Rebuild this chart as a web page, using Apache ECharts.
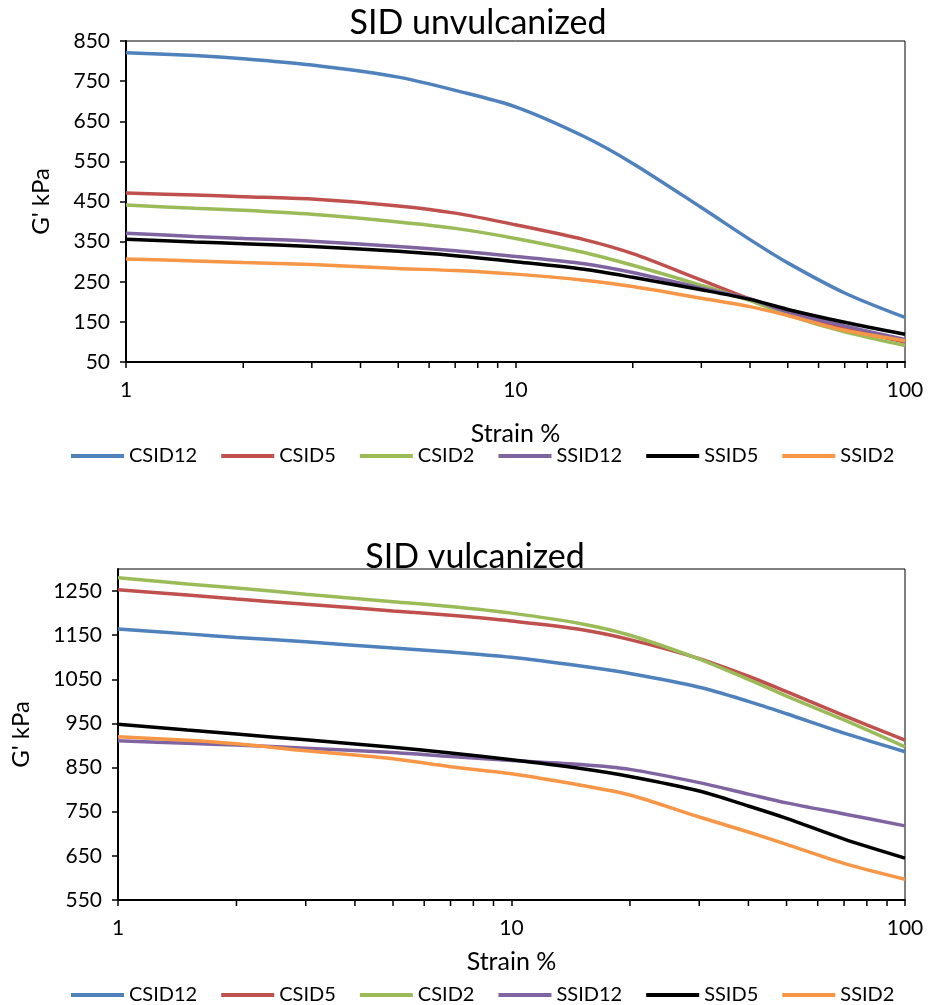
<!DOCTYPE html>
<html><head><meta charset="utf-8">
<script src="https://cdn.jsdelivr.net/npm/echarts@6/dist/echarts.min.js"></script>
<style>html,body{margin:0;padding:0;background:#fff}#c{width:928px;height:1005px}</style>
</head><body><div id="c"></div>
<script>
// ---- data ----
const strain = [1, 1.5, 2, 3, 5, 7, 10, 15, 20, 30, 40, 50, 70, 100];
const seriesNames = ['CSID12', 'CSID5', 'CSID2', 'SSID12', 'SSID5', 'SSID2'];

// SID unvulcanized (G' kPa)
const unvCSID12 = [821, 814, 806, 790, 760, 727, 686, 612, 545, 435, 355, 297, 222, 161];
const unvCSID5  = [471, 466, 462, 456, 439, 421, 392, 355, 320, 254, 207, 176, 134, 100];
const unvCSID2  = [441, 433, 428, 418, 399, 383, 358, 323, 291, 241, 203, 167, 125, 91];
const unvSSID12 = [371, 363, 358, 351, 338, 327, 313, 295, 273, 234, 207, 174, 140, 106];
const unvSSID5  = [356, 349, 345, 338, 326, 315, 300, 281, 261, 230, 206, 181, 149, 119];
const unvSSID2  = [307, 302, 298, 293, 283, 278, 269, 254, 238, 209, 188, 166, 129, 103];

// SID vulcanized (G' kPa)
const vulCSID12 = [1164, 1153, 1145, 1135, 1121, 1112, 1100, 1080, 1063, 1032, 1000, 972, 928, 886];
const vulCSID5  = [1253, 1241, 1232, 1220, 1205, 1195, 1182, 1163, 1140, 1097, 1057, 1022, 968, 912];
const vulCSID2  = [1280, 1266, 1257, 1243, 1226, 1215, 1200, 1176, 1150, 1096, 1050, 1012, 958, 897];
const vulSSID12 = [911, 905, 901, 894, 884, 875, 866, 857, 846, 816, 790, 770, 745, 718];
const vulSSID5  = [948, 935, 926, 913, 896, 883, 868, 848, 830, 797, 763, 735, 688, 645];
const vulSSID2  = [920, 912, 904, 888, 870, 852, 836, 810, 788, 738, 704, 676, 633, 597];

const minorTickValues = [2, 3, 4, 5, 6, 7, 8, 9, 20, 30, 40, 50, 60, 70, 80, 90];

const titles = ['SID unvulcanized', 'SID vulcanized'];
const xAxisTitle = 'Strain %';
const yAxisTitle = "G' kPa";

// ---- styling ----
const colors = ['#4F81BD', '#C0504D', '#9BBB59', '#8064A2', '#000000', '#F79646'];
const FONT = 'Lato, "Open Sans", sans-serif';
const unvData = [unvCSID12, unvCSID5, unvCSID2, unvSSID12, unvSSID5, unvSSID2];
const vulData = [vulCSID12, vulCSID5, vulCSID2, vulSSID12, vulSSID5, vulSSID2];
const yMins = [50, 550];

function pairs(vals) { return strain.map((s, i) => [s, vals[i]]); }

function lineSeries(dataSets, idx) {
  return dataSets.map((vals, i) => ({
    name: seriesNames[i],
    type: 'line',
    xAxisIndex: idx, yAxisIndex: idx,
    data: pairs(vals),
    smooth: 0.3,
    symbol: 'none', showSymbol: false,
    lineStyle: { color: colors[i], width: 3.5 },
    itemStyle: { color: colors[i] },
    silent: true,
    z: 2 + i
  }));
}

function minorTicks(idx) {
  return {
    type: 'custom',
    xAxisIndex: idx, yAxisIndex: idx,
    silent: true,
    clip: false,
    z: 10,
    data: minorTickValues.map(v => [v, yMins[idx]]),
    renderItem: function (params, api) {
      const p = api.coord([api.value(0), api.value(1)]);
      return { type: 'line', shape: { x1: p[0], y1: p[1], x2: p[0], y2: p[1] + 6 },
               style: { stroke: '#000', lineWidth: 1.5 } };
    }
  };
}

function xAxisCfg(idx, gap) {
  return {
    type: 'log', logBase: 10, min: 1, max: 100, gridIndex: idx,
    name: xAxisTitle, nameLocation: 'middle', nameGap: gap,
    nameTextStyle: { fontFamily: FONT, fontSize: 25, color: '#000', verticalAlign: 'top' },
    axisLine: { show: true, lineStyle: { color: '#000', width: 2 } },
    axisTick: { show: true, inside: false, length: 6, lineStyle: { color: '#000', width: 1.5 } },
    axisLabel: { fontFamily: FONT, fontSize: 21, color: '#000', margin: 18 },
    splitLine: { show: false }, minorTick: { show: false }
  };
}

function yAxisCfg(idx, min, max, gap) {
  return {
    type: 'value', min: min, max: max, interval: 100, gridIndex: idx,
    name: yAxisTitle, nameLocation: 'middle', nameGap: gap, nameRotate: 90,
    nameTextStyle: { fontFamily: FONT, fontSize: 24, color: '#000' },
    axisLine: { show: true, lineStyle: { color: '#000', width: 2 } },
    axisTick: { show: true, inside: false, length: 6, lineStyle: { color: '#000', width: 1.5 } },
    axisLabel: { fontFamily: FONT, fontSize: 21, color: '#000', margin: 16,
                 showMaxLabel: idx === 0, formatter: v => String(v) },
    splitLine: { show: false }
  };
}

function legendCfg(top) {
  return {
    data: seriesNames.map(n => ({ name: n, icon: 'rect' })),
    left: 71, top: top, orient: 'horizontal', padding: 0,
    itemWidth: 53, itemHeight: 4, itemGap: 24,
    selectedMode: false,
    textStyle: { fontFamily: FONT, fontSize: 20, color: '#000', padding: [0, 0, 0, 0] }
  };
}

const chart = echarts.init(document.getElementById('c'), null, { renderer: 'canvas' });
chart.setOption({
  backgroundColor: '#fff',
  animation: false,
  title: [
    { text: titles[0], left: 473, top: 1, textAlign: 'center',
      textStyle: { fontFamily: FONT, fontSize: 34, fontWeight: 'normal', color: '#000' } },
    { text: titles[1], left: 470, top: 535, textAlign: 'center',
      textStyle: { fontFamily: FONT, fontSize: 34, fontWeight: 'normal', color: '#000' } }
  ],
  legend: [legendCfg(446), legendCfg(985)],
  grid: [
    { left: 126, right: 23, top: 41, height: 321, show: true, borderColor: '#000', borderWidth: 1, containLabel: false },
    { left: 118, right: 23, top: 569, height: 331, show: true, borderColor: '#000', borderWidth: 1, containLabel: false }
  ],
  xAxis: [xAxisCfg(0, 59), xAxisCfg(1, 49)],
  yAxis: [yAxisCfg(0, 50, 850, 73), yAxisCfg(1, 550, 1300, 85)],
  series: [].concat(lineSeries(unvData, 0), lineSeries(vulData, 1), [minorTicks(0), minorTicks(1)])
});
</script>
</body></html>
